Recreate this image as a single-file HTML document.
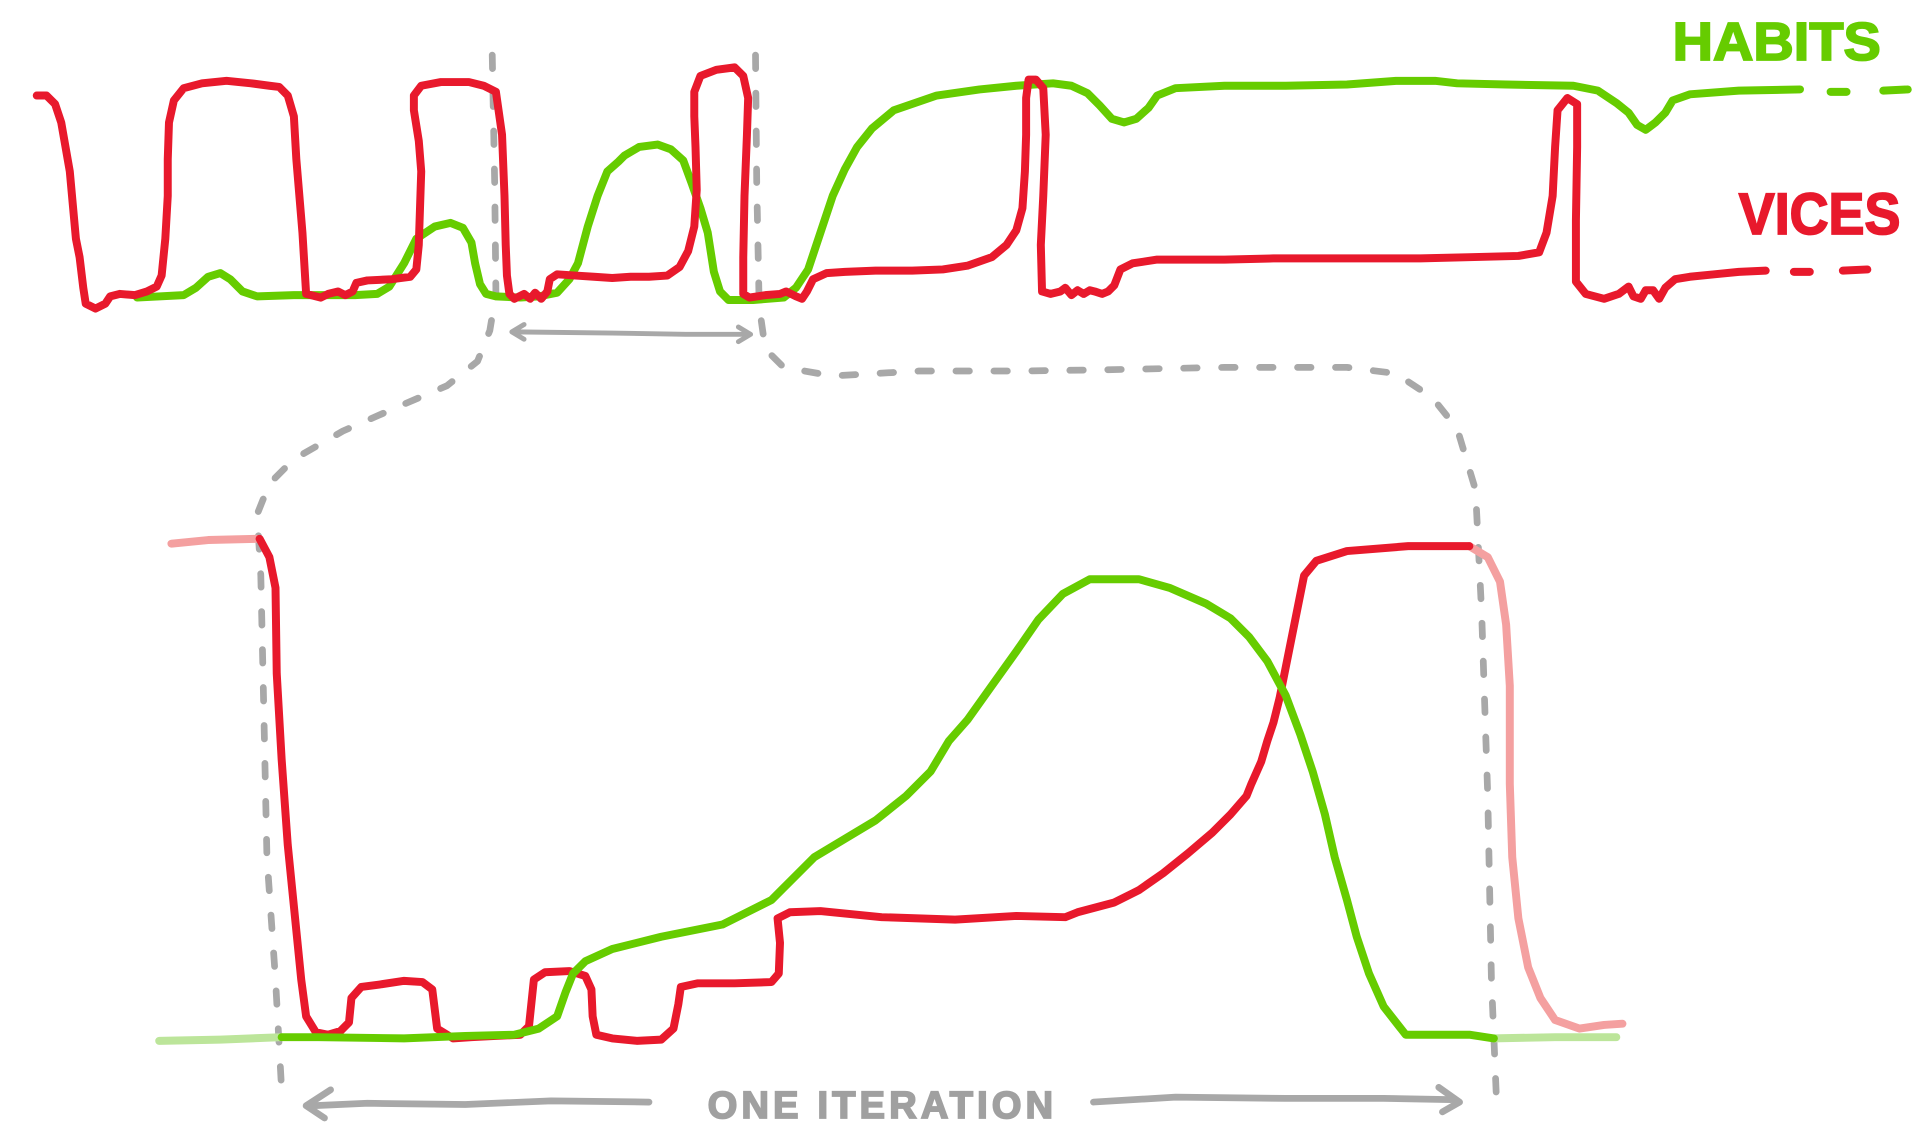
<!DOCTYPE html>
<html><head><meta charset="utf-8"><style>
html,body{margin:0;padding:0;background:#fff;}
svg{display:block}
text{font-family:"Liberation Sans",sans-serif;font-weight:bold;}
</style></head><body>
<svg width="1920" height="1131" viewBox="0 0 1568 923.6" xmlns="http://www.w3.org/2000/svg">
<g fill="none" stroke-linecap="round" stroke-linejoin="round">
<g stroke="#a8a8a8" stroke-width="5.5" stroke-dasharray="11 20">
<polyline points="402,45 404,150 405,240 400,270 390,295 365,315 330,330 280,352 240,375 220,395 210,420 213,470 215,560 218,700 225,800 230,890"/>
<polyline points="617,45 618,150 620,250 625,285 640,300 680,307 750,303 830,303 900,302 1000,300 1100,300 1140,305 1170,325 1190,350 1205,400 1210,500 1215,650 1218,800 1222,895"/>
</g>
<g stroke="#a8a8a8" stroke-width="4">
<polyline points="420,271 500,272 560,273 612,273"/>
<polyline points="428,265 418,271 428,277"/>
<polyline points="603,267 613,273 603,279"/>
</g>
<g stroke="#a8a8a8" stroke-width="5.5">
<polyline points="530,900 450,899 380,902 300,901 255,903"/>
<polyline points="270,890 250,903 265,913"/>
<polyline points="893,900 960,896 1050,897 1130,897 1185,898"/>
<polyline points="1175,888 1192,900 1178,908"/>
</g>
<polyline stroke="#66cc00" stroke-width="6.5" points="112,243 150,241 160,235 170,226 180,223 188,228 198,238 210,242 240,241 290,241 308,240 318,234 330,215 340,195 355,185 368,182 378,186 385,198 388,215 392,232 397,240 405,242 425,243 440,242 455,239 465,228 472,215 480,185 488,160 496,140 505,132 510,127 522,120 537,118 548,122 558,131 565,150 572,170 578,190 583,222 588,238 595,245 615,245 640,243 650,235 660,220 670,190 680,160 690,138 700,120 712,105 730,90 765,78 800,73 830,70 860,68 875,70 888,76 898,86 908,97 918,100 928,97 938,88 945,78 960,72 1000,70 1050,70 1100,69 1140,66 1172,66 1190,68 1230,69 1285,70 1305,74 1320,84 1330,92 1337,102 1344,106 1352,100 1360,92 1366,82 1380,77 1420,74 1470,73"/>
<polyline stroke="#66cc00" stroke-width="6.5" points="1495,75 1508,75"/>
<polyline stroke="#66cc00" stroke-width="6.5" points="1538,74 1558,73"/>
<polyline stroke="#e8192c" stroke-width="6.5" points="30,78 38,78 45,85 50,100 57,140 62,195 65,210 68,235 70,248 78,252 86,248 90,242 98,240 110,241 120,238 128,234 132,225 135,195 137,160 137,130 138,100 142,82 150,72 165,68 185,66 205,68 220,70 228,71 235,78 240,95 242,130 247,190 250,240 262,243 268,240 276,238 282,241 288,238 291,231 300,229 320,228 335,226 340,220 342,200 343,170 344,140 342,115 338,90 338,78 344,70 360,67 383,67 395,70 405,75 410,110 412,160 413,200 414,225 416,240 420,244 428,240 433,244 437,239 442,244 447,238 449,228 455,224 470,225 485,226 500,227 515,226 530,226 545,225 555,218 562,205 567,185 569,155 568,120 567,95 567,75 572,62 585,57 600,55 607,62 611,80 610,110 608,160 607,210 607,240 612,243 625,241 637,240 642,238 650,242 655,244 659,238 664,228 675,223 690,222 715,221 745,221 770,220 790,217 810,210 822,200 830,188 835,170 837,140 838,110 838,80 840,65 846,65 852,72 854,110 852,160 850,200 851,238 858,240 866,238 870,235 875,241 880,237 885,240 890,237 894,238 900,240 905,238 910,233 915,220 925,215 945,212 970,212 1000,212 1040,211 1080,211 1120,211 1160,211 1200,210 1240,209 1257,206 1263,190 1268,160 1270,120 1272,90 1280,80 1288,85 1288,120 1287,180 1287,230 1295,240 1310,244 1322,240 1330,234 1334,242 1340,244 1344,237 1350,237 1355,244 1360,235 1368,228 1380,226 1400,224 1420,222 1442,221"/>
<polyline stroke="#e8192c" stroke-width="6.5" points="1465,222 1478,222"/>
<polyline stroke="#e8192c" stroke-width="6.5" points="1505,221 1525,220"/>
<polyline stroke="#bce59a" stroke-width="6.5" points="130,850 180,849 230,847"/>
<polyline stroke="#bce59a" stroke-width="6.5" points="1220,848 1270,847 1320,847"/>
<polyline stroke="#f4a0a0" stroke-width="6.5" points="140,444 170,441 210,440"/>
<polyline stroke="#f4a0a0" stroke-width="6.5" points="1200,446 1215,455 1225,475 1230,510 1233,560 1233,640 1235,700 1240,750 1248,790 1258,815 1270,833 1290,840 1310,837 1325,836"/>
<polyline stroke="#e8192c" stroke-width="6.5" points="212,440 220,455 225,480 226,550 230,620 235,690 242,760 246,800 250,830 258,843 268,845 278,842 285,835 287,815 295,806 310,804 330,801 345,802 353,808 357,840 370,848 385,847 405,846 425,845 432,838 436,800 445,794 465,793 478,797 483,808 484,830 487,845 500,848 520,850 540,849 550,840 554,820 556,806 570,803 600,803 630,802 636,795 637,770 635,750 645,745 670,744 720,749 780,751 830,748 870,749 880,745 910,737 930,727 950,713 970,697 990,680 1005,665 1018,650 1022,640 1030,622 1035,605 1040,590 1045,570 1050,545 1055,520 1060,495 1065,470 1075,458 1100,450 1150,446 1200,446"/>
<polyline stroke="#66cc00" stroke-width="6.5" points="230,847 260,847 330,848 380,846 420,845 440,840 455,830 462,810 468,795 478,785 500,775 540,765 590,755 610,745 630,735 645,720 660,705 665,700 690,685 715,670 740,650 760,630 775,605 790,588 810,560 830,532 848,506 868,485 890,473 930,473 955,480 985,493 1005,505 1020,520 1035,540 1050,568 1062,600 1072,630 1082,665 1090,700 1100,735 1108,765 1118,795 1130,822 1148,845 1170,845 1200,845 1220,848"/>
</g>
<text x="1366" y="49" font-size="44" fill="#66cc00" stroke="#66cc00" stroke-width="1.5" textLength="170" lengthAdjust="spacingAndGlyphs">HABITS</text>
<text x="1420" y="191" font-size="48" fill="#e8192c" stroke="#e8192c" stroke-width="1.5" textLength="132" lengthAdjust="spacingAndGlyphs">VICES</text>
<text x="578" y="913" font-size="31" fill="#a0a0a0" stroke="#a0a0a0" stroke-width="1.5" textLength="282" lengthAdjust="spacing">ONE ITERATION</text>
</svg>
</body></html>
